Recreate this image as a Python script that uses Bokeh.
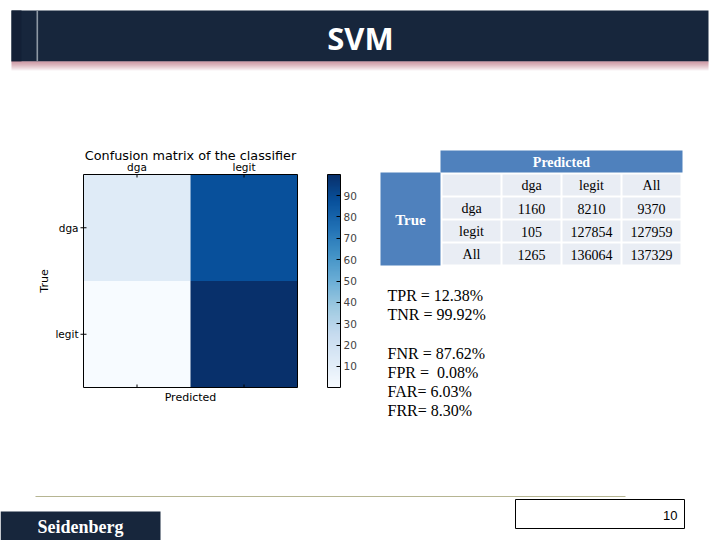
from bokeh.plotting import figure
from bokeh.models import Range1d, ColumnDataSource, LinearColorMapper, ColorBar, FixedTicker
from bokeh.palettes import Blues256
from bokeh.core.properties import value
from bokeh.embed import file_html
from bokeh.resources import INLINE

# ---------------- data ----------------
slide_title = "SVM"
classes = ["dga", "legit"]
cm_pct = [[12.38, 87.62],
          [0.08, 99.92]]
cbar_ticks = [10, 20, 30, 40, 50, 60, 70, 80, 90]
table_cols = ["dga", "legit", "All"]
table_rows = ["dga", "legit", "All"]
table_vals = [[1160, 8210, 9370],
              [105, 127854, 127959],
              [1265, 136064, 137329]]
metrics = ["TPR = 12.38%", "TNR = 99.92%", "", "FNR = 87.62%",
           "FPR =\u00a0 0.08%", "FAR= 6.03%", "FRR= 8.30%"]
footer_text = "Seidenberg"
page_number = "10"

# ---------------- figure (slide-pixel coordinates) ----------------
NAVY = "#17263c"
W, H = 720, 540
p = figure(width=W, height=H, x_range=Range1d(0, W), y_range=Range1d(H, 0),
           output_backend="svg", toolbar_location=None, min_border=0)
p.axis.visible = False
p.grid.visible = False
p.outline_line_color = None
p.background_fill_color = "white"
p.border_fill_color = "white"

# title bar
p.quad(left=11, right=708, top=10, bottom=61, fill_color=NAVY, line_color=None)
p.quad(left=11, right=21, top=10, bottom=61, fill_color="#132036", line_color=None)
p.quad(left=36, right=37.6, top=10, bottom=61, fill_color="#8d98a4", line_color=None)
n_sh = 9
for k in range(n_sh):
    p.quad(left=11, right=708, top=61 + k, bottom=62 + k, fill_color="#b9707f",
           fill_alpha=0.85 * (1 - k / n_sh), line_color=None)
p.text(x=[360], y=[37], text=[slide_title], text_color="white", text_font=value("Open Sans"),
       text_font_style="bold", text_font_size="31px", text_align="center", text_baseline="middle")

# ---------------- confusion-matrix heatmap ----------------
hm_left, hm_top, hm_w, hm_h = 83, 174, 214, 213
n = len(classes)
cw, ch = hm_w / n, hm_h / n
vals = [v for row in cm_pct for v in row]
mapper = LinearColorMapper(palette=list(reversed(Blues256)), low=min(vals), high=max(vals))
L, R, T, B, V = [], [], [], [], []
for i in range(n):
    for j in range(n):
        L.append(hm_left + j * cw); R.append(hm_left + (j + 1) * cw)
        T.append(hm_top + i * ch); B.append(hm_top + (i + 1) * ch)
        V.append(cm_pct[i][j])
src = ColumnDataSource(dict(left=L, right=R, top=T, bottom=B, val=V))
p.quad(left="left", right="right", top="top", bottom="bottom", source=src,
       fill_color={"field": "val", "transform": mapper}, line_color=None)
p.quad(left=hm_left, right=hm_left + hm_w, top=hm_top, bottom=hm_top + hm_h,
       fill_color=None, line_color="black", line_width=1)

tick_font = value("DejaVu Sans")
centers_x = [hm_left + (j + 0.5) * cw for j in range(n)]
centers_y = [hm_top + (i + 0.5) * ch for i in range(n)]
p.text(x=centers_x, y=[hm_top - 2] * n, text=classes, text_font=tick_font, text_font_size="10.5px",
       text_align="center", text_baseline="bottom", text_color="black")
p.text(x=[hm_left - 5] * n, y=centers_y, text=classes, text_font=tick_font, text_font_size="10.5px",
       text_align="right", text_baseline="middle", text_color="black")
p.segment(x0=centers_x, x1=centers_x, y0=[hm_top] * n, y1=[hm_top + 3] * n, line_color="black")
p.segment(x0=centers_x, x1=centers_x, y0=[hm_top + hm_h] * n, y1=[hm_top + hm_h - 3] * n, line_color="black")
p.segment(x0=[hm_left] * n, x1=[hm_left + 3] * n, y0=centers_y, y1=centers_y, line_color="black")
p.segment(x0=[hm_left - 3] * n, x1=[hm_left] * n, y0=centers_y, y1=centers_y, line_color="black")
p.text(x=[hm_left + hm_w / 2], y=[155], text=["Confusion matrix of the classifier"], text_font=tick_font,
       text_font_size="12.8px", text_align="center", text_baseline="middle", text_color="black")
p.text(x=[hm_left + hm_w / 2], y=[397], text=["Predicted"], text_font=tick_font, text_font_size="11px",
       text_align="center", text_baseline="middle", text_color="black")
p.text(x=[44], y=[hm_top + hm_h / 2], text=["True"], text_font=tick_font, text_font_size="11px",
       text_align="center", text_baseline="middle", angle=1.5708, text_color="black")

cbar = ColorBar(color_mapper=mapper, ticker=FixedTicker(ticks=cbar_ticks), width=13, height=213,
                padding=0, location=(327, H - 387), major_label_text_font_size="10.5px",
                major_label_text_font="DejaVu Sans", major_tick_line_color="black",
                major_tick_in=4, major_tick_out=0, label_standoff=3,
                bar_line_color="black", border_line_color=None, background_fill_alpha=0)
p.add_layout(cbar, "center")

# ---------------- table ----------------
HEAD = "#4f81bd"
CELL = "#e9edf4"
serif = value("Liberation Serif")
tab_left, col_w = 441, 60
row_top0, row_h = 173, 23
p.quad(left=440, right=682, top=150, bottom=172, fill_color=HEAD, line_color=None)
p.quad(left=380, right=440, top=172, bottom=row_top0 + 4 * row_h, fill_color=HEAD, line_color=None)
p.text(x=[561], y=[161.5], text=["Predicted"], text_color="white", text_font=serif, text_font_style="bold",
       text_font_size="14px", text_align="center", text_baseline="middle")
p.text(x=[410], y=[219], text=["True"], text_color="white", text_font=serif, text_font_style="bold",
       text_font_size="15px", text_align="center", text_baseline="middle")
cells_l, cells_r, cells_t, cells_b, tx, ty, tt = [], [], [], [], [], [], []
grid = [[""] + table_cols] + [[table_rows[r]] + [str(v) for v in table_vals[r]] for r in range(len(table_rows))]
for r, row in enumerate(grid):
    for c, txt in enumerate(row):
        l = tab_left + c * col_w
        t = row_top0 + r * row_h
        cells_l.append(l + 1); cells_r.append(l + col_w - 1)
        cells_t.append(t + 1); cells_b.append(t + row_h - 1)
        tx.append(l + col_w / 2); ty.append(t + row_h / 2 + 0.5); tt.append(txt)
p.quad(left=cells_l, right=cells_r, top=cells_t, bottom=cells_b, fill_color=CELL, line_color=None)
p.text(x=tx, y=ty, text=tt, text_font=serif, text_font_size="14px", text_align="center",
       text_baseline="middle", text_color="black")

# ---------------- metrics text ----------------
my = [295 + k * 19.2 for k in range(len(metrics))]
p.text(x=[387] * len(metrics), y=my, text=metrics, text_font=serif, text_font_size="16px",
       text_align="left", text_baseline="middle", text_color="black")

# ---------------- footer ----------------
p.segment(x0=[35], x1=[625], y0=[496], y1=[496], line_color="#b6b592", line_width=1.2)
p.quad(left=515, right=684, top=499, bottom=528, fill_color="white", line_color="black", line_width=1)
p.text(x=[677], y=[515], text=[page_number], text_font=value("Liberation Sans"), text_font_size="13px",
       text_align="right", text_baseline="middle", text_color="black")
p.quad(left=0, right=160, top=511, bottom=540, fill_color=NAVY, line_color=None)
p.text(x=[80], y=[526], text=[footer_text], text_font=serif, text_font_style="bold",
       text_font_size="18px", text_align="center", text_baseline="middle", text_color="white")

open("out.html", "w").write(file_html(p, INLINE))
